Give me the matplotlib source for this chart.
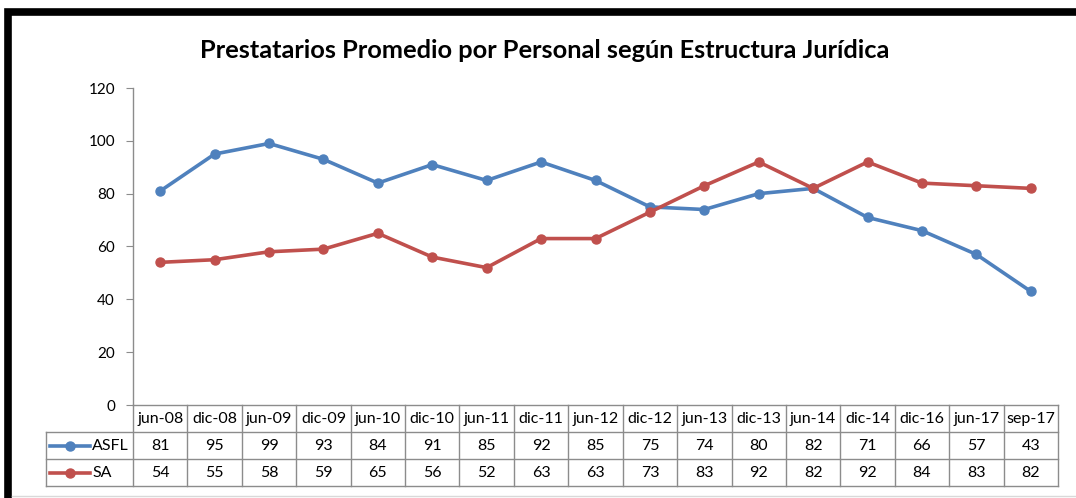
import matplotlib
matplotlib.use('Agg')
import matplotlib.pyplot as plt
from matplotlib.lines import Line2D
from matplotlib.transforms import blended_transform_factory

categories = ["jun-08", "dic-08", "jun-09", "dic-09", "jun-10", "dic-10", "jun-11",
              "dic-11", "jun-12", "dic-12", "jun-13", "dic-13", "jun-14", "dic-14",
              "dic-16", "jun-17", "sep-17"]
asfl = [81, 95, 99, 93, 84, 91, 85, 92, 85, 75, 74, 80, 82, 71, 66, 57, 43]
sa = [54, 55, 58, 59, 65, 56, 52, 63, 63, 73, 83, 92, 82, 92, 84, 83, 82]
series = [("ASFL", asfl, "#4F81BD"), ("SA", sa, "#C0504D")]
title = "Prestatarios Promedio por Personal según Estructura Jurídica"

plt.rcParams['font.family'] = ['Lato', 'DejaVu Sans']

W, H = 1076, 498
fig = plt.figure(figsize=(W / 100, H / 100), dpi=100)

def fx(x):
    return x / W

def fy(y):
    return 1 - y / H

L, R, T, B = 133, 1058, 88, 405
grey = "#8C8C8C"
ax = fig.add_axes([fx(L), fy(B), (R - L) / W, (B - T) / H])
n = len(categories)
xs = list(range(n))
for name, vals, col in series:
    ax.plot(xs, vals, color=col, lw=2.6, marker='o', ms=6.5, solid_capstyle='round')
ax.set_xlim(-0.5, n - 0.5)
ax.set_ylim(0, 120)
ax.set_yticks(range(0, 121, 20))
ax.set_xticks([])
for s in ['top', 'right']:
    ax.spines[s].set_visible(False)
for s in ['left', 'bottom']:
    ax.spines[s].set_color(grey)
    ax.spines[s].set_linewidth(1.0)
ax.tick_params(axis='y', length=5, color=grey, labelsize=11, pad=8)

# table
tr = blended_transform_factory(ax.transData, fig.transFigure)
r0, r1, r2, r3 = 405, 432, 459, 486
for i in range(n + 1):
    fig.add_artist(Line2D([i - 0.5, i - 0.5], [fy(r0), fy(r3)], transform=tr,
                          color=grey, lw=1.0))
for yy in (r1, r2, r3):
    fig.add_artist(Line2D([fx(46), fx(R)], [fy(yy), fy(yy)], transform=fig.transFigure,
                          color=grey, lw=1.0))
fig.add_artist(Line2D([fx(46), fx(46)], [fy(r1), fy(r3)], transform=fig.transFigure,
                      color=grey, lw=1.0))

fs = 11.5
for i, c in enumerate(categories):
    fig.text(i, fy((r0 + r1) / 2), c, transform=tr, ha='center', va='center', fontsize=fs)
for (name, vals, col), (ya, yb) in zip(series, [(r1, r2), (r2, r3)]):
    yc = fy((ya + yb) / 2)
    for i, v in enumerate(vals):
        fig.text(i, yc, f"{v}", transform=tr, ha='center', va='center', fontsize=fs)
    fig.add_artist(Line2D([fx(50), fx(90)], [yc, yc], transform=fig.transFigure,
                          color=col, lw=2.6))
    fig.add_artist(Line2D([fx(70)], [yc], transform=fig.transFigure, color=col,
                          marker='o', ms=6.5, lw=0))
    fig.text(fx(92), yc, name, ha='left', va='center', fontsize=fs)

# title
fig.text(fx(545), fy(50), title, ha='center', va='center', fontsize=18.3, fontweight='bold')

# chart frame
fig.add_artist(Line2D([fx(8), fx(8), fx(W + 5)], [fy(H + 5), fy(12.5), fy(12.5)],
                      transform=fig.transFigure, color='black', lw=5.5,
                      solid_joinstyle='miter'))
fig.add_artist(Line2D([fx(12), fx(W)], [fy(496), fy(496)], transform=fig.transFigure,
                      color='#D9D9D9', lw=1.0))

fig.savefig('out.png', dpi=100)
